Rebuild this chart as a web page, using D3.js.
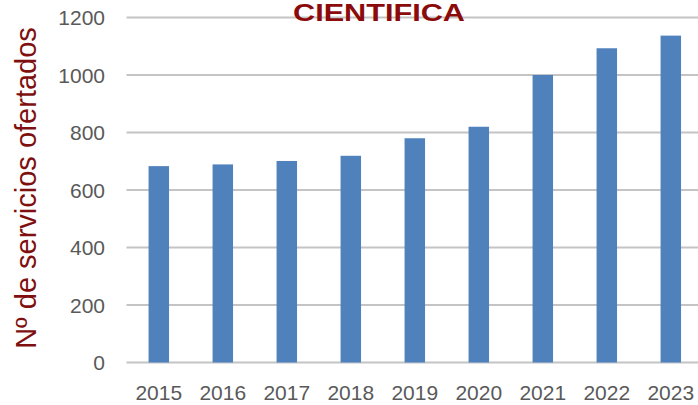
<!DOCTYPE html>
<html><head><meta charset="utf-8">
<script src="https://cdn.jsdelivr.net/npm/d3@7/dist/d3.min.js"></script>
<style>html,body{margin:0;padding:0;background:#fff;}svg{display:block;}</style>
</head><body>
<script>
const categories = ["2015","2016","2017","2018","2019","2020","2021","2022","2023"];
const values = [683, 689, 701, 719, 780, 820, 1000, 1093, 1137];
const yTicks = [0, 200, 400, 600, 800, 1000, 1200];
const title = "CIENTIFICA";
const yTitle = "Nº de servicios ofertados";

const W = 698, H = 405;
const svg = d3.select("body").append("svg").attr("width", W).attr("height", H);

const x = d3.scaleBand().domain(categories).range([126.8, 702.8]).paddingInner(0.68).paddingOuter(0.34);
const y = d3.scaleLinear().domain([0, 1200]).range([362.5, 17.5]);

// gridlines
svg.append("g").selectAll("line").data(yTicks).join("line")
  .attr("x1", 126.5).attr("x2", 703)
  .attr("y1", d => y(d)).attr("y2", d => y(d))
  .attr("stroke", "#c4c4c4").attr("stroke-width", 2);

// y tick labels
svg.append("g").selectAll("text").data(yTicks).join("text")
  .attr("x", 105).attr("y", d => y(d)).attr("dy", "0.36em")
  .attr("text-anchor", "end")
  .attr("font-family", "Liberation Sans, Arial, sans-serif").attr("font-size", 21)
  .attr("fill", "#595959").text(d => d);

// bars
svg.append("g").selectAll("rect").data(values).join("rect")
  .attr("x", (d, i) => x(categories[i]))
  .attr("width", x.bandwidth())
  .attr("y", d => y(d))
  .attr("height", d => y(0) - y(d))
  .attr("fill", "#4f81bd");

// x labels
svg.append("g").selectAll("text").data(categories).join("text")
  .attr("x", d => x(d) + x.bandwidth() / 2).attr("y", 392).attr("dy", "0.36em")
  .attr("text-anchor", "middle")
  .attr("font-family", "Liberation Sans, Arial, sans-serif").attr("font-size", 21)
  .attr("fill", "#595959").text(d => d);

// title
svg.append("text").attr("x", 293).attr("y", 21)
  .attr("font-family", "Liberation Sans, Arial, sans-serif").attr("font-weight", "bold")
  .attr("font-size", 23).attr("fill", "#8b0a0a")
  .attr("textLength", 172).attr("lengthAdjust", "spacingAndGlyphs")
  .text(title);

// y title
svg.append("text").attr("transform", "translate(36,188) rotate(-90)")
  .attr("text-anchor", "middle")
  .attr("font-family", "Liberation Sans, Arial, sans-serif").attr("font-size", 29)
  .attr("fill", "#7f1010").text(yTitle);
</script>
</body></html>
